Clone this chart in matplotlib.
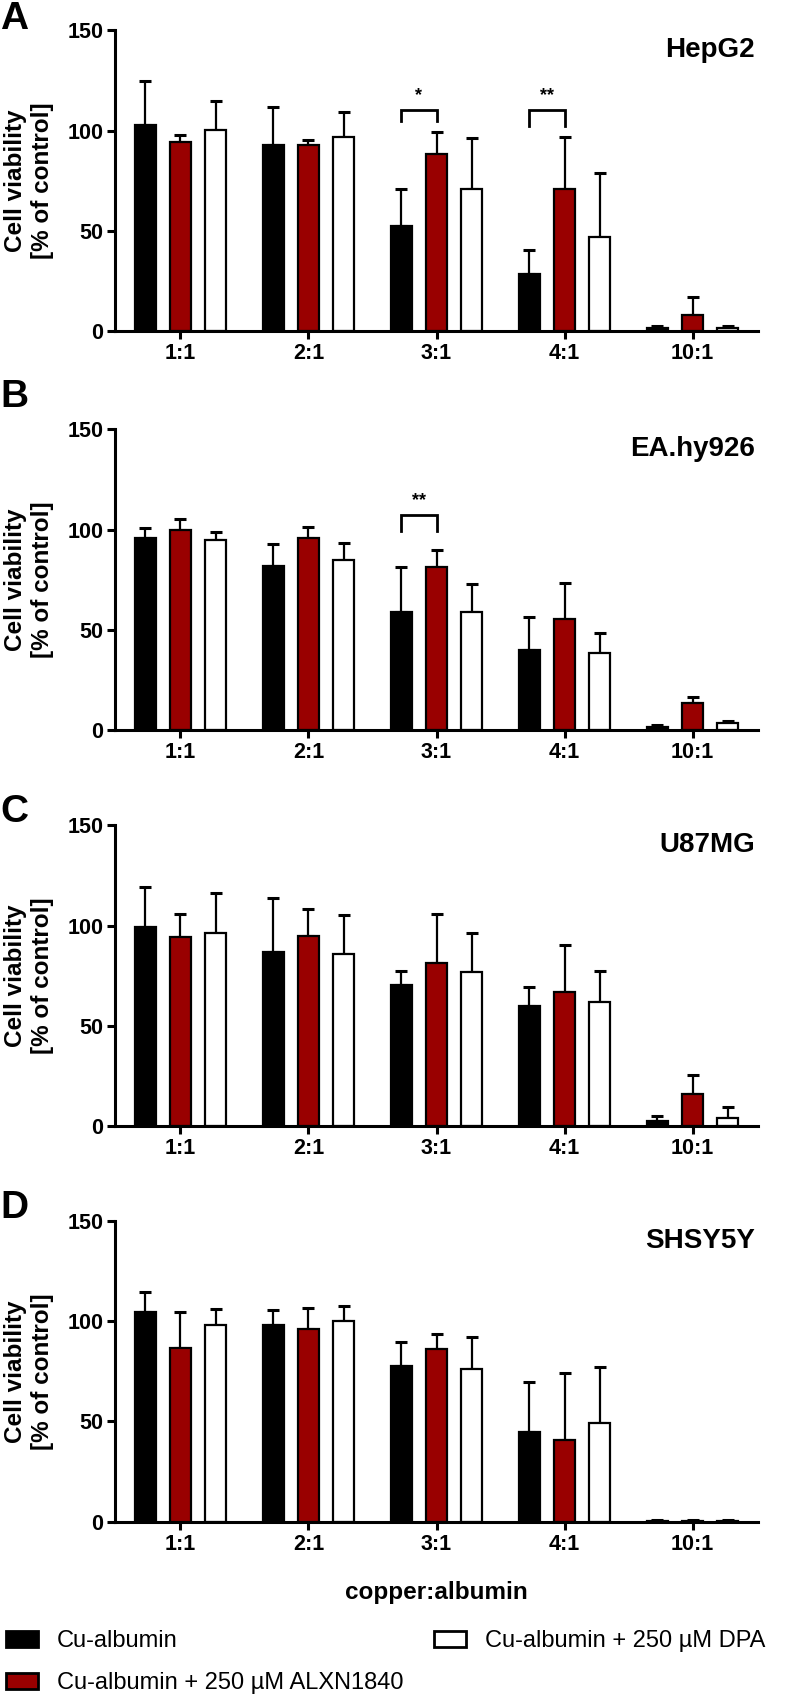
import numpy as np
import matplotlib
matplotlib.use("Agg")
import matplotlib.pyplot as plt
from matplotlib.patches import Patch

plt.rcParams['font.family'] = ['Liberation Sans', 'DejaVu Sans']

# ── Data ────────────────────────────────────────────────────────────────────
ratios = ['1:1', '2:1', '3:1', '4:1', '10:1']
cell_lines = ['HepG2', 'EA.hy926', 'U87MG', 'SHSY5Y']
panel_letters = ['A', 'B', 'C', 'D']
series_names = ['Cu-albumin', 'Cu-albumin + 250 µM ALXN1840', 'Cu-albumin + 250 µM DPA']

# HepG2
hepg2_cu = [102.7, 92.7, 52.2, 28.3, 1.5]
hepg2_cu_sd = [22.2, 18.9, 18.6, 12.1, 1.0]
hepg2_alxn = [94.3, 92.7, 88.2, 70.8, 8.0]
hepg2_alxn_sd = [3.7, 2.6, 11.0, 26.0, 9.1]
hepg2_dpa = [100.2, 96.7, 70.8, 46.7, 1.5]
hepg2_dpa_sd = [14.6, 12.3, 25.5, 32.0, 1.0]

# EA.hy926
eahy_cu = [95.9, 81.6, 59.0, 40.1, 1.5]
eahy_cu_sd = [4.7, 11.2, 22.5, 16.1, 1.0]
eahy_alxn = [99.8, 95.9, 81.3, 55.2, 13.3]
eahy_alxn_sd = [5.3, 5.2, 8.5, 18.3, 3.2]
eahy_dpa = [94.8, 85.0, 59.0, 38.4, 3.3]
eahy_dpa_sd = [4.0, 8.4, 14.0, 10.1, 1.2]

# U87MG
u87_cu = [99.5, 87.0, 70.2, 59.7, 2.5]
u87_cu_sd = [19.7, 26.5, 7.0, 9.6, 2.3]
u87_alxn = [94.2, 94.8, 81.5, 66.8, 16.2]
u87_alxn_sd = [11.5, 13.5, 24.3, 23.5, 9.0]
u87_dpa = [96.2, 85.8, 76.8, 61.8, 3.8]
u87_dpa_sd = [19.8, 19.4, 19.5, 15.4, 5.9]

# SHSY5Y
shsy_cu = [104.8, 98.2, 77.5, 44.5, 0.5]
shsy_cu_sd = [9.7, 7.6, 12.0, 25.2, 0.3]
shsy_alxn = [86.8, 96.0, 86.2, 40.8, 0.5]
shsy_alxn_sd = [17.9, 10.8, 7.3, 33.5, 0.3]
shsy_dpa = [98.2, 100.2, 76.0, 49.2, 0.5]
shsy_dpa_sd = [8.0, 7.6, 16.0, 27.8, 0.3]

panel_means = [
    [hepg2_cu, hepg2_alxn, hepg2_dpa],
    [eahy_cu, eahy_alxn, eahy_dpa],
    [u87_cu, u87_alxn, u87_dpa],
    [shsy_cu, shsy_alxn, shsy_dpa],
]
panel_sds = [
    [hepg2_cu_sd, hepg2_alxn_sd, hepg2_dpa_sd],
    [eahy_cu_sd, eahy_alxn_sd, eahy_dpa_sd],
    [u87_cu_sd, u87_alxn_sd, u87_dpa_sd],
    [shsy_cu_sd, shsy_alxn_sd, shsy_dpa_sd],
]

# significance: (panel, ratio index, label, bracket top, leg bottom)
sig_marks = [
    (0, 2, '*', 110.4, 104.8),
    (0, 3, '**', 110.4, 102.2),
    (1, 2, '**', 107.1, 99.1),
]

# ── Layout ──────────────────────────────────────────────────────────────────
W, H = 789, 1702
ax_left, ax_right = 115, 758
zero_px = [331, 730, 1126, 1521.7]
ax_h = 300.7
letter_base_px = [29, 407, 822, 1218]

colors = ['black', '#990000', 'white']
offsets = [-0.275, 0.0, 0.275]
bar_w = 0.165

fig = plt.figure(figsize=(W / 100, H / 100), dpi=100)
x = np.arange(len(ratios))

axes = []
for k in range(4):
    ax = fig.add_axes([ax_left / W, 1 - zero_px[k] / H,
                       (ax_right - ax_left) / W, ax_h / H])
    axes.append(ax)
    for j in range(3):
        m = np.array(panel_means[k][j])
        sd = np.array(panel_sds[k][j])
        ax.errorbar(x + offsets[j], m, yerr=[np.zeros_like(sd), sd], fmt='none',
                    ecolor='black', elinewidth=1.6, capsize=4.3, capthick=2.2,
                    zorder=1)
        ax.bar(x + offsets[j], m, width=bar_w, color=colors[j],
               edgecolor='black', linewidth=1.6, zorder=2)

    # ── Styling ──
    ax.set_xlim(-0.51, 4.51)
    ax.set_ylim(0, 150)
    ax.set_yticks([0, 50, 100, 150])
    ax.set_xticks(x, ratios)
    ax.spines[['top', 'right']].set_visible(False)
    ax.spines[['left', 'bottom']].set_linewidth(2.2)
    ax.tick_params(width=2.2, length=5.5, labelsize=15.5, pad=3)
    for lbl in ax.get_xticklabels() + ax.get_yticklabels():
        lbl.set_fontweight('bold')
    ax.set_ylabel('Cell viability\n[% of control]', fontsize=17.5,
                  fontweight='bold', va='center')
    ax.yaxis.set_label_coords(-0.134, 0.5)
    ax.text(0.995, 0.933, cell_lines[k], transform=ax.transAxes, ha='right',
            va='center', fontsize=20, fontweight='bold')
    fig.text(0.0, 1 - letter_base_px[k] / H, panel_letters[k], fontsize=28,
             fontweight='bold', ha='left', va='baseline')

# significance brackets
for k, i, lab, top, leg in sig_marks:
    ax = axes[k]
    x0, x1 = i + offsets[0], i + offsets[1]
    ax.plot([x0, x0, x1, x1], [leg, top, top, leg], color='black', lw=2.0,
            solid_joinstyle='miter', zorder=3)
    ax.text((x0 + x1) / 2, top + 3, lab, ha='center', va='bottom',
            fontsize=13, fontweight='bold')

axes[-1].set_xlabel('copper:albumin', fontsize=17.5, fontweight='bold',
                    labelpad=19)

handles = [Patch(facecolor=c, edgecolor='black', linewidth=2) for c in colors]
fig.legend(handles, series_names, ncol=2, loc='upper left',
           bbox_to_anchor=(6 / W, 1 - 1630 / H), frameon=False, fontsize=17,
           handlelength=1.36, handleheight=0.64, handletextpad=0.8,
           columnspacing=1.3, labelspacing=0.85, borderpad=0, borderaxespad=0)

fig.savefig('out.png', dpi=100)
